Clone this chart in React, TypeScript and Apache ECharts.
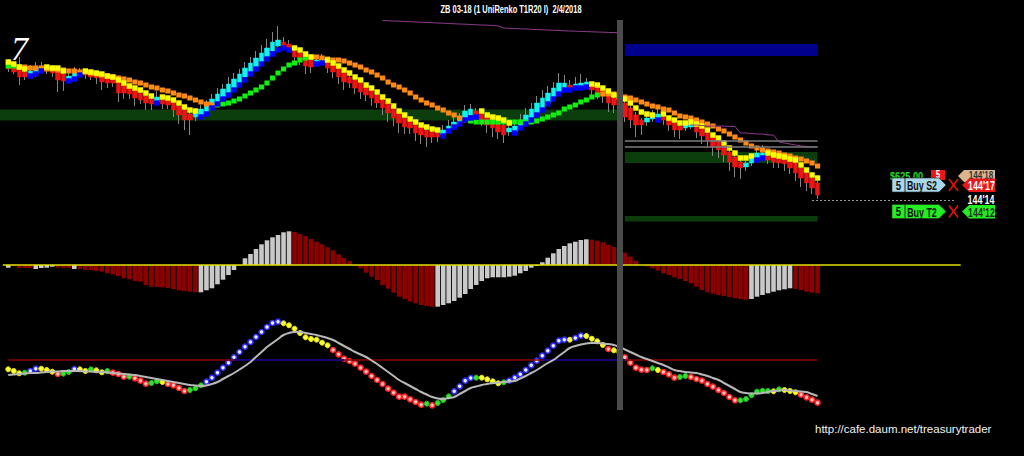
import React, { useEffect, useRef } from "react";
import * as echarts from "echarts";

// ---------------- text ----------------
const title = "ZB 03-18 (1 UniRenko T1R20 I)  2/4/2018";
const panelNumber = "7";
const credit = "http://cafe.daum.net/treasurytrader";
const lastPriceLabel = "144'14";
const orderQty = ["5", "5"];
const orderNames = ["Buy S2", "Buy T2"];
const orderPrices = ["144'17", "144'12"];
const pnlText = "$625.00";
const stopText = "144'18";

// ---------------- price panel (renko bricks) ----------------
const openPrice = [
  186,183,181,178,175,177,180,182,181,180,
  176,170,172,176,178,177,176,174,172,171,
  168,165,162,160,157,154,151,148,151,150,
  147,144,140,136,133,134,138,144,147,153,
  157,162,167,173,178,183,188,193,199,204,
  208,206,199,197,193,190,187,188,188,185,
  182,178,173,170,167,163,160,155,151,147,
  142,137,132,128,125,123,120,118,117,115,
  120,122,127,132,135,139,137,133,132,128,
  125,118,118,123,127,132,137,142,147,152,
  158,162,165,163,163,164,165,163,160,156,
  152,150,147,142,135,130,128,131,132,133,
  130,127,124,122,123,124,122,117,113,110,
  104,98,93,88,83,87,92,93,94,93,
  92,91,90,87,82,77,72,67,
];
const closePrice = [
  181,178,173,173,179,183,184,179,177,170,
  169,174,178,178,175,173,172,168,167,167,
  157,157,156,152,150,147,146,153,146,145,
  140,135,130,130,137,141,144,151,156,161,
  166,171,176,182,187,192,197,202,208,210,
  204,202,193,190,184,183,190,191,182,178,
  173,168,167,162,158,155,152,147,142,137,
  132,127,123,122,117,115,113,113,113,120,
  124,128,133,139,141,135,130,125,122,118,
  115,122,124,130,135,141,147,152,157,162,
  167,167,162,166,167,168,160,157,154,147,
  145,142,133,130,125,125,132,134,136,130,
  125,120,120,125,126,118,114,110,103,100,
  95,88,83,82,87,92,97,97,90,88,
  87,86,82,77,72,67,62,55,
];
const wickLow = [
  3,2,8,3,3,4,2,3,4,12,10,3,3,2,4,3,6,8,5,4,
  9,6,5,8,4,7,6,3,5,4,7,9,10,15,4,3,2,2,3,2,
  2,2,3,2,2,2,2,2,2,2,4,3,6,5,8,6,3,3,5,6,
  7,8,5,6,7,6,8,5,7,9,8,10,7,6,8,9,10,6,5,3,
  2,2,3,2,2,4,6,8,9,7,8,4,3,2,2,2,2,2,3,2,
  2,3,4,3,2,3,5,6,7,9,8,6,5,8,12,10,4,3,2,5,
  6,7,9,3,2,6,8,7,9,8,7,9,10,11,4,3,2,3,4,6,
  5,7,6,8,9,8,6,4,
];
const wickHigh = [
  5,3,12,4,6,5,4,3,4,3,2,6,5,4,3,2,3,2,3,2,
  4,3,2,3,3,2,3,6,2,3,3,2,2,3,5,4,6,5,6,5,
  7,6,5,6,6,7,8,9,10,14,5,4,3,2,3,2,4,5,3,2,
  2,3,2,3,2,3,2,3,2,3,2,3,2,3,2,3,2,3,4,5,
  6,5,4,6,5,3,3,2,3,2,3,4,5,6,7,6,7,8,7,6,
  10,8,5,7,9,4,3,2,3,2,3,2,3,2,3,2,3,6,5,2,
  3,2,3,4,4,3,2,3,2,3,2,3,2,3,2,4,5,8,3,2,
  3,2,3,2,3,2,3,2,
];
const fastMA = [
  188,186,183,181,174,176,179,183,182,182,
  179,169,171,175,179,178,177,176,174,173,
  170,167,164,162,160,157,154,147,153,152,
  150,147,143,140,139,133,136,142,146,151,
  155,160,165,170,176,181,186,191,196,200,
  202,200,202,200,196,193,186,187,190,187,
  184,180,177,173,170,165,162,158,153,149,
  144,139,135,131,128,125,123,121,120,114,
  119,123,126,130,132,133,139,135,133,132,
  130,127,117,122,126,130,135,140,146,151,
  156,160,160,162,162,163,166,165,162,159,
  155,153,151,147,142,138,136,135,130,136,
  132,130,127,127,128,126,124,120,115,112,
  107,102,97,92,92,94,90,92,97,95,
  94,93,91,90,85,80,75,72,
];
const fastColorRuns = "Y4B3Y4B3Y13B1Y7B17Y4B2Y21B7Y6B14Y12B1Y17B2Y10";
const slowMA = [
  184,184,183,183,182,182,182,181,181,180,
  180,179,179,178,178,177,176,175,174,173,
  172,171,170,168,167,165,163,162,160,159,
  157,155,154,152,150,148,146,145,145,146,
  147,149,151,154,157,160,163,167,172,177,
  181,185,187,190,192,193,193,192,191,190,
  190,189,187,185,183,180,178,175,172,168,
  165,163,160,157,153,150,147,145,142,140,
  137,135,132,130,129,128,128,128,128,128,
  128,128,128,128,128,128,129,131,133,135,
  137,141,143,145,148,150,153,155,156,156,
  156,155,153,152,150,148,146,144,143,141,
  140,137,134,133,132,130,128,126,124,121,
  119,116,113,110,107,104,102,100,99,98,
  97,95,94,92,91,89,87,84,
];
const slowColorRuns = "G3O35G18O28G24O40";
const purpleLeftStart = 68;
const purpleLeft = [
  229.5,229.3,229,228.8,228.5,228.3,228,227.8,227.5,227.3,
  227,226.8,226.5,226.2,226,225.8,225.5,225.2,225,224.8,
  224.5,224,222,221.7,221.5,221.2,221,220.7,220.5,220.2,
  220,219.7,219.5,219.2,219,218.8,218.6,218.4,218.2,218,
  217.8,217.6,217.4,217.2,
];
const purpleRightStart = 124;
const purpleRight = [
  125,125,124.5,124,124,124,124,123.5,123.5,117,
  117,116.5,116,116,115,115,108,107,106,105,
  104,103.5,103,103,
];
const leftZone = [129.5, 140.5];
const rightZones = [
  [194, 206],
  [87, 98],
  [28.5, 34],
];
const rightLevels = [109, 103];
const lastPrice = 50;
const separatorBar = 111;

// ---------------- histogram ----------------
const histogram = [
  -2.7,-1,-3,-3,-3,-4,-3,-2.7,-1.7,-2.7,
  -3,-3,-4,-4,-5,-5,-6,-6.7,-8.3,-9.3,
  -11,-13.3,-14.3,-16,-16.7,-20,-21.7,-22,-22.3,-23,
  -24,-25.3,-26,-26.7,-27.3,-27.3,-25.3,-23.3,-19.3,-14.7,
  -10,-5,-0.5,6.7,11,16,20.7,24.7,27.7,30,
  32.7,33.7,33,31,29,26,23.3,20.7,17.7,14.7,
  10.7,7,4,-0.5,-3.3,-7.7,-11.7,-15,-20,-23.7,
  -27.7,-31.7,-34,-36.7,-38.3,-40,-41,-41.7,-41.7,-40,
  -38.3,-36,-32.7,-29,-24,-20,-16,-13.3,-12.3,-12.3,
  -12.3,-11.7,-10.7,-8.3,-6,-2.7,-1,2.7,7.3,11.7,
  16,19,21.7,23.3,25,25.7,25.3,24.3,22.7,20.3,
  18,15,12.3,8.3,4.3,0,-1.3,-3.3,-5.7,-8.3,
  -10,-12.3,-14,-16,-18.3,-21.7,-25,-27.3,-28.7,-30,
  -31,-32,-33.3,-34,-34.7,-34,-31.7,-30,-28.3,-26.7,
  -25.3,-24.3,-23.3,-24,-25,-26.7,-27.7,-28.3,
];
const histColorRuns = "G1R4G4R3G1R22G17R26G28R29G8R5";

// ---------------- oscillator ----------------
const oscDots = [
  40.7,39,36.7,37.3,39,41.3,41.3,40,38.3,36,
  36.3,38,41,40.7,39,40.7,39.7,37.7,39,37.3,
  36,33.3,33.3,31.7,29.3,26.3,27,28.7,28,26,
  24.7,22,19,20,21.7,24.7,28.3,32.3,37.3,42.3,
  47.3,52.7,58,63.3,68,73,78,83,87,88.3,
  86.7,84.7,81.3,77,72.7,71,70.3,67.3,64.7,60,
  55.7,51.3,49,46.3,42.3,38.3,34,30,26,21.3,
  17.3,13.3,13.3,10.7,8,5.3,6.3,4.7,7,10,
  13.7,18.7,23.7,29.3,32,32.3,32.3,30.7,28.7,26.7,
  27.7,29.3,32.3,35.7,40,44.7,49.3,54.3,59.3,64.3,
  69.3,70.3,70.3,72,74.3,74,71.3,68.7,65,61,
  59.7,57.7,52.7,47.3,42.3,40.3,40,41.7,40,38,
  35.7,32.3,33,34,33,31,29.3,26,23.3,20,
  17,13,9.7,9.7,11,14.7,18.3,19.3,19,18.7,
  20.7,20,19,17.7,15.3,12.7,10.3,7.3,
];
const dotColorRuns =
  "Y3G1B2Y3R1G2B1Y2G1Y2G1R3G1R3G2Y1R4G3B14Y9R17G1R1G3B4G1Y4G1B11Y1B2Y4R1Y2R5G1Y1R3G2R9G6Y1G1Y3R4";
const oscSignal = [
  35,35.5,36,36.5,37,37,37.5,38,38.5,38.5,
  39,39,39,39,38.5,38.5,38,38,37.5,37,
  36.5,36,35.5,35,34,33,32,31,30,29,
  28,27,26,25,24.5,24,24.5,26,28,31,
  34,37,40.5,44,48,53,58,63,67,71,
  75,77,78,78,77,76,75,73.5,72,70,
  67,64,61,58,55.5,53,49.5,46,42,38,
  34,30,27,24,21,18,15.5,13,11.5,11,
  12,13,16,19,22,23.5,25,26,27,27.5,
  28,28.5,29,31.5,34,37,40,43.5,47,50,
  54,58,62,64,65.5,66.5,67,67,66.5,66,
  65,63,60.5,58,55.5,53,51,49,47,45,
  42.5,40,39,38,37.5,37,35.5,34,32,30,
  27,24,21,18,17,16.5,16.5,17,18,19,
  19.5,20,19.5,19,18.5,18,16,14,
];
const oscLevel = 50;

// ---------------- layout / style ----------------
const BAR = 5.537;
const OFF = 1;
const NCAT = 186;
const GRID_LEFT = 6 - BAR * (OFF + 0.5);
const GRID_W = NCAT * BAR;
const ZERO_END = 174;
const FONT = "'Liberation Sans', Arial, sans-serif";

function runs(s: string): string[] {
  const out: string[] = [];
  const re = /([A-Z])(\d+)/g;
  let m: RegExpExecArray | null;
  while ((m = re.exec(s)) !== null) {
    const n = parseInt(m[2], 10);
    for (let k = 0; k < n; k++) out.push(m[1]);
  }
  return out;
}

function buildOption(): any {
  const X = (i: number) => i + OFF;
  const cats = Array.from({ length: NCAT }, (_, j) => String(j));
  const fastCols = runs(fastColorRuns);
  const slowCols = runs(slowColorRuns);
  const histCols = runs(histColorRuns);
  const dotCols = runs(dotColorRuns);

  const fastPal: any = { Y: "#ffff00", B: "#0000ff" };
  const slowPal: any = { O: "#ff8a14", G: "#12f012" };
  const histPal: any = { R: "#8c0000", G: "#c9c9c9" };
  const dotPal: any = {
    Y: { color: "#ffff3a", borderColor: "#e8e800", borderWidth: 1, opacity: 1 },
    G: { color: "#33e033", borderColor: "#22c022", borderWidth: 1, opacity: 1 },
    B: { color: "#f0f0ff", borderColor: "#3030ff", borderWidth: 1.6, opacity: 1 },
    R: { color: "#ffc0c0", borderColor: "#ff2424", borderWidth: 1.6, opacity: 1 },
  };

  const bodies = openPrice.map((o, i) => {
    const c = closePrice[i];
    return [X(i), o, c, Math.min(o, c), Math.max(o, c)];
  });
  const wicks = openPrice.map((o, i) => {
    const c = closePrice[i];
    return [X(i), o, c, Math.min(o, c) - wickLow[i], Math.max(o, c) + wickHigh[i]];
  });
  const fastData = fastMA.map((v, i) => ({ value: [X(i), v], itemStyle: { color: fastPal[fastCols[i]], opacity: 1 } }));
  const slowData = slowMA.map((v, i) => ({ value: [X(i), v], itemStyle: { color: slowPal[slowCols[i]], opacity: 1 } }));
  const purpleData: any[] = [];
  purpleLeft.forEach((v, k) => purpleData.push([X(purpleLeftStart + k), v]));
  purpleData.push([X(purpleLeftStart + purpleLeft.length), "-"]);
  purpleRight.forEach((v, k) => purpleData.push([X(purpleRightStart + k), v]));

  const histData = histogram.map((v, i) => ({ value: [X(i), v], itemStyle: { color: histPal[histCols[i]] } }));
  const dotData = oscDots.map((v, i) => ({ value: [X(i), v], itemStyle: dotPal[dotCols[i]] }));
  const signalData = oscSignal.map((v, i) => [X(i), v]);
  const levelData = oscSignal.map((_, i) => [X(i), oscLevel]);
  const levelBlue = oscDots.map((v, i) => [X(i), v > oscLevel ? oscLevel : "-"]);

  const sepX = X(separatorBar);
  const sepLine = { xAxis: sepX, lineStyle: { color: "#4b4b4b", width: 6, type: "solid" } };
  const zoneStart = X(separatorBar + 1);
  const zoneEnd = X(openPrice.length - 1);

  const markLineBase = { silent: true, symbol: ["none", "none"], label: { show: false } };

  const graphic: any[] = [];
  const txt = (
    text: string, x: number, y: number, fill: string, size: number, sx: number, align = "center",
  ) => ({
    type: "text",
    x, y, scaleX: sx,
    style: {
      text, x: 0, y: 0, fill, fontSize: size, fontFamily: FONT, fontWeight: "bold",
      align, verticalAlign: "middle",
    },
  });
  graphic.push(txt(title, 511, 8.5, "#ffffff", 11, 0.68));
  graphic.push({
    type: "text",
    style: {
      text: panelNumber, x: 11, y: 48, fill: "#ffffff", fontSize: 34,
      fontFamily: "'Liberation Serif', 'DejaVu Serif', serif", fontStyle: "italic",
      verticalAlign: "middle",
    },
  });
  graphic.push({
    type: "text",
    style: {
      text: credit, x: 815, y: 428.5, fill: "#f2f2f2", fontSize: 11.5,
      fontFamily: "'Liberation Sans', Arial, sans-serif", verticalAlign: "middle",
    },
  });
  // partially hidden row
  graphic.push(txt(pnlText, 890, 176, "#22dd22", 11.5, 0.8, "left"));
  graphic.push({ type: "rect", shape: { x: 931, y: 170, width: 14, height: 10 }, style: { fill: "#e81818" } });
  graphic.push(txt("5", 938, 175, "#ffffff", 10, 0.8));
  graphic.push({
    type: "polygon",
    shape: { points: [[958, 176], [964, 170], [995, 170], [995, 182], [964, 182]] },
    style: { fill: "#d9b68f" },
  });
  graphic.push(txt(stopText, 981, 175.5, "#333333", 11, 0.74));
  // order tags
  const tagCy = [185, 211.5];
  const tagFill = ["#a9d6e8", "#22ee22"];
  const priceFill = ["#e81818", "#22ee22"];
  const priceText = ["#ffffff", "#2a2a2a"];
  orderNames.forEach((name, k) => {
    const cy = tagCy[k];
    const t = cy - 7, b = cy + 7;
    graphic.push({
      type: "polygon",
      shape: { points: [[892, t], [939, t], [946, cy], [939, b], [892, b]] },
      style: { fill: tagFill[k], stroke: "#2a2a2a", lineWidth: 0.6 },
    });
    graphic.push({ type: "line", shape: { x1: 905, y1: t, x2: 905, y2: b }, style: { stroke: "#2a2a2a", lineWidth: 1 } });
    graphic.push(txt(orderQty[k], 898.5, cy + 0.5, "#111111", 12, 0.8));
    graphic.push(txt(name, 922, cy + 0.5, "#111111", 12, 0.74));
    graphic.push({ type: "line", shape: { x1: 949, y1: t + 1, x2: 958, y2: b - 1 }, style: { stroke: "#ee1111", lineWidth: 1.4 } });
    graphic.push({ type: "line", shape: { x1: 958, y1: t + 1, x2: 949, y2: b - 1 }, style: { stroke: "#ee1111", lineWidth: 1.4 } });
    graphic.push({
      type: "polygon",
      shape: { points: [[962, cy], [969, t + 0.5], [995, t + 0.5], [995, b], [969, b]] },
      style: { fill: priceFill[k] },
    });
    graphic.push(txt(orderPrices[k], 981.5, cy + 0.5, priceText[k], 12, 0.74));
  });
  graphic.push(txt(lastPriceLabel, 981, 199.5, "#ffffff", 12, 0.74));

  const axisHidden = { show: false };
  return {
    animation: false,
    backgroundColor: "#000000",
    grid: [
      { left: GRID_LEFT, width: GRID_W, top: 20, height: 207 },
      { left: GRID_LEFT, width: GRID_W, top: 227, height: 82 },
      { left: GRID_LEFT, width: GRID_W, top: 309, height: 101 },
    ],
    xAxis: [0, 1, 2].map((g) => ({ type: "category", gridIndex: g, data: cats, boundaryGap: true, ...axisHidden })),
    yAxis: [
      { type: "value", gridIndex: 0, min: 23, max: 230, ...axisHidden },
      { type: "value", gridIndex: 1, min: -44, max: 38, ...axisHidden },
      { type: "value", gridIndex: 2, min: 0, max: 101, ...axisHidden },
    ],
    graphic,
    series: [
      {
        type: "candlestick", name: "wicks", xAxisIndex: 0, yAxisIndex: 0, barWidth: 1,
        encode: { x: 0, y: [1, 2, 3, 4] }, data: wicks, silent: true,
        itemStyle: { color: "#858585", color0: "#858585", borderColor: "#858585", borderColor0: "#858585", borderWidth: 1 },
      },
      {
        type: "candlestick", name: "bricks", xAxisIndex: 0, yAxisIndex: 0, barWidth: 5,
        encode: { x: 0, y: [1, 2, 3, 4] }, data: bodies, silent: true,
        itemStyle: { color: "#12f0f0", color0: "#ee1414", borderColor: "#12f0f0", borderColor0: "#ee1414", borderWidth: 0.5 },
        markArea: {
          silent: true,
          itemStyle: { color: "#0c3d0c", opacity: 1, borderWidth: 0 },
          data: [
            [{ yAxis: leftZone[1] }, { xAxis: sepX, yAxis: leftZone[0] }],
            ...rightZones.map((z, k) => [
              { xAxis: zoneStart, yAxis: z[1], itemStyle: { color: k === 0 ? "#00008c" : "#0c3d0c" } },
              { xAxis: zoneEnd, yAxis: z[0], itemStyle: { color: k === 0 ? "#00008c" : "#0c3d0c" } },
            ]),
          ],
        },
        markLine: {
          ...markLineBase,
          data: [
            ...rightLevels.map((lv) => [
              { coord: [zoneStart, lv], lineStyle: { color: "#7d7d7d", width: 1.5, type: "solid" } },
              { coord: [zoneEnd, lv] },
            ]),
            [
              { coord: [zoneEnd - 1, lastPrice], lineStyle: { color: "#9a9a9a", width: 1, type: [2, 2] } },
              { coord: [ZERO_END - 1, lastPrice] },
            ],
            sepLine,
          ],
        },
      },
      {
        type: "scatter", name: "slow", xAxisIndex: 0, yAxisIndex: 0, symbol: "rect",
        symbolSize: [5.2, 5], data: slowData, silent: true, itemStyle: { opacity: 1 },
      },
      {
        type: "scatter", name: "fast", xAxisIndex: 0, yAxisIndex: 0, symbol: "rect",
        symbolSize: [5.4, 5.4], data: fastData, silent: true, itemStyle: { opacity: 1 },
      },
      {
        type: "line", name: "purple", xAxisIndex: 0, yAxisIndex: 0, data: purpleData,
        showSymbol: false, connectNulls: false, lineStyle: { color: "#8e3a8e", width: 1 }, silent: true,
      },
      {
        type: "bar", name: "histogram", xAxisIndex: 1, yAxisIndex: 1, barWidth: 4.6,
        data: histData, silent: true,
        markLine: {
          ...markLineBase,
          data: [
            [{ coord: [0, 0], lineStyle: { color: "#e0e000", width: 1.5, type: "solid" } }, { coord: [ZERO_END, 0] }],
            sepLine,
          ],
        },
      },
      {
        type: "line", name: "level", xAxisIndex: 2, yAxisIndex: 2, data: levelData, showSymbol: false,
        lineStyle: { color: "#8b0000", width: 1.3 }, silent: true,
        markLine: { ...markLineBase, data: [sepLine] },
      },
      {
        type: "line", name: "levelBlue", xAxisIndex: 2, yAxisIndex: 2, data: levelBlue, showSymbol: false,
        connectNulls: false, lineStyle: { color: "#000099", width: 1.3 }, silent: true,
      },
      {
        type: "line", name: "signal", xAxisIndex: 2, yAxisIndex: 2, data: signalData, showSymbol: false,
        smooth: true, lineStyle: { color: "#b8b8b8", width: 2 }, silent: true,
      },
      {
        type: "scatter", name: "dots", xAxisIndex: 2, yAxisIndex: 2, symbol: "circle", symbolSize: 5,
        data: dotData, silent: true, itemStyle: { opacity: 1 },
      },
    ],
  };
}

export default function App() {
  const ref = useRef<HTMLDivElement>(null);
  useEffect(() => {
    if (!ref.current) return;
    const chart = echarts.init(ref.current, null, { renderer: "svg" });
    chart.setOption(buildOption());
    return () => chart.dispose();
  }, []);
  return (
    <div
      ref={ref}
      style={{ position: "fixed", left: 0, top: 0, width: 1024, height: 456, background: "#000" }}
    />
  );
}
